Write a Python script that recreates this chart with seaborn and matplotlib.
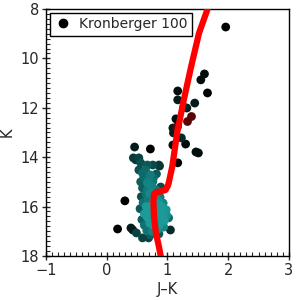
import numpy as np
import pandas as pd
import matplotlib
matplotlib.use("Agg")
import matplotlib.pyplot as plt
import seaborn as sns
from matplotlib.colors import LinearSegmentedColormap
from matplotlib.lines import Line2D

# cluster members (J-K, K)
jk = [0.53, 0.48, 0.56, 0.67, 0.76, 0.86, 0.53, 0.59, 0.64, 0.61, 0.72, 0.69, 0.77, 0.82,
      0.67, 0.76, 0.56, 0.59, 0.67, 0.74, 0.82, 0.89,
      0.57, 0.65, 0.71, 0.80, 0.88, 0.60, 0.68, 0.78, 0.85, 0.93,
      0.55, 0.65, 0.74, 0.83, 0.90, 0.98, 0.62, 0.70, 0.76, 0.85, 0.93, 0.99,
      0.58, 0.67, 0.73, 0.80, 0.88, 0.95, 0.62, 0.71, 0.78, 0.87, 0.93,
      0.66, 0.75, 0.84, 0.72, 0.86, 0.79, 0.84, 0.76, 0.81, 0.72, 0.87,
      0.80, 0.78, 0.83, 0.75, 0.82, 0.79,
      1.96, 1.61, 1.55, 1.66, 1.17, 1.17, 1.45, 1.32, 1.27, 1.14, 1.09, 1.10, 1.23, 1.09,
      1.30, 0.46, 0.72, 1.47, 1.51, 0.44, 1.17, 0.30, 0.18, 0.40, 0.43, 0.49, 0.59, 0.69,
      0.94, 1.02, 1.05, 0.87]
kmag = [14.03, 14.11, 14.23, 14.32, 14.32, 14.32, 14.52, 14.64, 14.52, 14.80, 14.72, 14.92, 14.84, 14.68,
        15.04, 15.00, 15.00, 15.25, 15.33, 15.17, 15.33, 15.21,
        15.60, 15.51, 15.47, 15.56, 15.62, 15.84, 15.70, 15.80, 15.76, 15.86,
        16.09, 16.00, 15.96, 16.05, 16.00, 16.13, 16.29, 16.20, 16.28, 16.19, 16.30, 16.36,
        16.53, 16.44, 16.52, 16.43, 16.47, 16.57, 16.76, 16.68, 16.77, 16.72, 16.82,
        16.97, 17.01, 16.92, 17.15, 17.11, 16.14, 16.38, 16.38, 16.62, 16.10, 15.94,
        16.24, 16.56, 16.44, 16.20, 16.30, 16.02,
        8.73, 10.63, 10.87, 11.40, 11.32, 11.68, 11.81, 12.01, 11.97, 12.45, 12.82, 13.02, 13.22, 13.51,
        13.47, 13.59, 13.67, 13.79, 13.83, 14.03, 14.23, 15.77, 16.91, 16.87, 16.95, 17.07, 17.27, 17.27,
        16.83, 16.46, 16.95, 14.36]

# points shown in dark red
red_jk = [1.39, 1.33, 1.16, 1.14]
red_k = [12.33, 12.52, 12.74, 12.79]

# isochrone
iso_jk = [0.92, 0.89, 0.85, 0.81, 0.78, 0.77, 0.78, 0.82, 0.90, 0.97, 1.00, 1.02, 1.08, 1.12,
          1.16, 1.27, 1.39, 1.52, 1.66, 1.70]
iso_k = [18.3, 18.0, 17.5, 17.07, 16.41, 15.8, 15.5, 15.42, 15.38, 15.33, 15.2, 15.06, 14.38, 13.7,
         13.02, 11.68, 10.34, 8.98, 8.01, 7.7]

df = pd.DataFrame({"jk": jk, "k": kmag})

# local density: neighbours within a small radius (scaled to screen units)
xs = np.array(jk) * 60.75
ys = np.array(kmag) * 24.7
d = np.sqrt((xs[:, None] - xs[None, :]) ** 2 + (ys[:, None] - ys[None, :]) ** 2)
df["dens"] = (d < 12).sum(axis=1) - 1

sns.set_style("ticks")
plt.rcParams["font.family"] = ["DejaVu Sans"]

fig = plt.figure(figsize=(3, 3), dpi=100)
ax = fig.add_axes([0.153, 0.147, 0.81, 0.823])

cmap = LinearSegmentedColormap.from_list("bt", ["#000000", "#083c3c", "#0c5c5c", "#128282", "#1c9a9a"])
df = df.sort_values("dens")
sns.scatterplot(data=df, x="jk", y="k", hue="dens", palette=cmap, hue_norm=(0, 17),
                s=40, linewidth=0, legend=False, ax=ax, zorder=2)
ax.scatter(red_jk, red_k, s=40, color="#5a0505", linewidth=0, zorder=2)

ax.plot(iso_jk, iso_k, color="red", lw=4.5, zorder=3, solid_joinstyle="round")

ax.set_xlim(-1, 3)
ax.set_ylim(18, 8)
ax.set_xticks([-1, 0, 1, 2, 3])
ax.set_yticks([8, 10, 12, 14, 16, 18])
ax.set_xticks(np.arange(-1, 3.01, 0.1), minor=True)
ax.set_yticks(np.arange(8, 18.01, 0.2), minor=True)
ax.tick_params(which="major", direction="inout", length=6, width=1, labelsize=10.5, pad=2)
ax.tick_params(which="minor", direction="in", length=3, width=0.8)
for s in ax.spines.values():
    s.set_linewidth(1)
    s.set_color("black")
ax.set_xlabel("J\u2013K", fontsize=10.5, labelpad=3)
ax.set_ylabel("K", fontsize=10.5, labelpad=4)

handle = Line2D([], [], marker="o", color="black", linestyle="none", markersize=6)
leg = ax.legend([handle], ["Kronberger 100"], loc="upper left", fontsize=10,
                fancybox=False, edgecolor="black", framealpha=1, borderaxespad=0.3,
                handletextpad=0.5, borderpad=0.3, handlelength=1.3)
leg.get_frame().set_linewidth(1)

fig.savefig("out.png", dpi=100)
